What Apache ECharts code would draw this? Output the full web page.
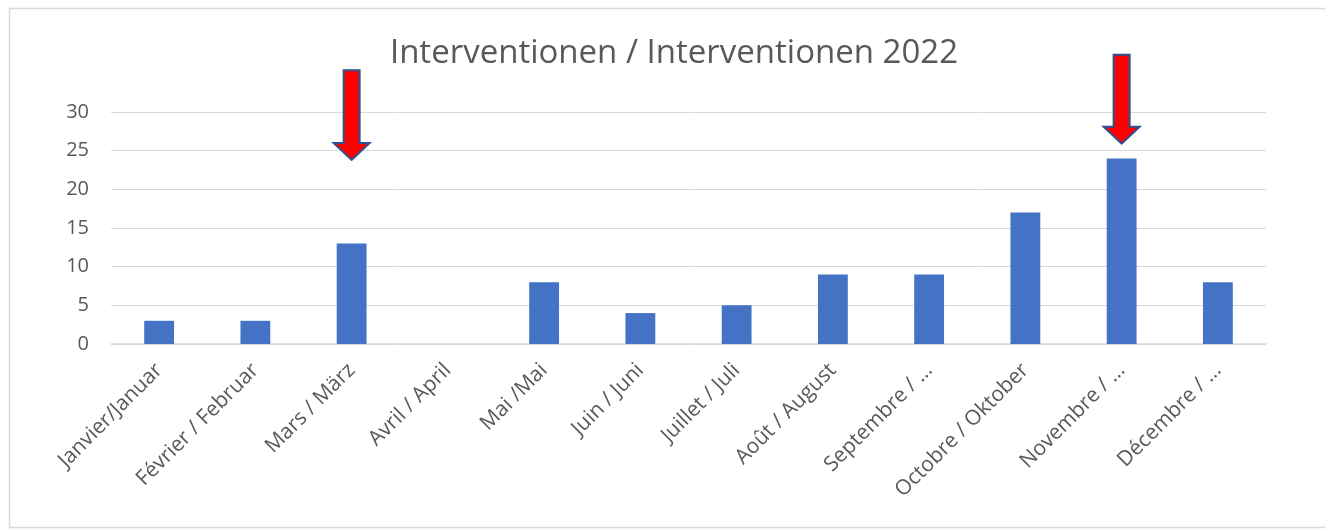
<!DOCTYPE html>
<html><head><meta charset="utf-8">
<script src="https://cdn.jsdelivr.net/npm/echarts@6/dist/echarts.min.js"></script>
<style>html,body{margin:0;padding:0;background:#fff}#c{width:1325px;height:529px}</style>
</head><body><div id="c"></div>
<script>
const categories = ["Janvier/Januar","Février / Februar","Mars / März","Avril / April","Mai /Mai","Juin / Juni","Juillet / Juli","Août / August","Septembre / …","Octobre / Oktober","Novembre / …","Décembre / …"];
const values = [3,3,13,0,8,4,5,9,9,17,24,8];
const yTicks = [0,5,10,15,20,25,30];
// annotation arrows: category index, top value, tip value
const arrowCat = [2,10];
const arrowTop = [35.4,37.4];
const arrowTip = [23.8,25.9];

const chart = echarts.init(document.getElementById('c'));
const FONT = '"Open Sans", sans-serif';
chart.setOption({
  animation:false,
  title:{text:'Interventionen / Interventionen 2022',left:669,textAlign:'center',top:32,
    textStyle:{fontFamily:FONT,fontSize:33,fontWeight:'normal',color:'#595959'}},
  graphic:[{type:'rect',shape:{x:9.5,y:8.5,width:1330,height:519},
    style:{fill:'none',stroke:'#D9D9D9',lineWidth:1.5},silent:true}],
  grid:{left:111,right:59,top:112,bottom:185},
  xAxis:{type:'category',data:categories,
    axisLine:{lineStyle:{color:'#D9D9D9',width:1.5}},axisTick:{show:false},
    axisLabel:{rotate:45,interval:0,fontFamily:FONT,fontSize:21,color:'#595959',margin:23}},
  yAxis:{type:'value',min:yTicks[0],max:yTicks[yTicks.length-1],interval:5,
    axisLine:{show:false},axisTick:{show:false},
    splitLine:{lineStyle:{color:'#D9D9D9',width:1}},
    axisLabel:{fontFamily:FONT,fontSize:20,color:'#595959',margin:22}},
  series:[
    {type:'bar',data:values,barWidth:'31%',itemStyle:{color:'#4472C4'}},
    {type:'custom',clip:false,z:10,
     data:arrowCat.map((c,i)=>[c,arrowTop[i],arrowTip[i]]),
     renderItem:function(params,api){
       const top=api.coord([api.value(0),api.value(1)]);
       const tip=api.coord([api.value(0),api.value(2)]);
       const cx=tip[0], sw=8, hw=18, hh=17;
       const hy=tip[1]-hh;
       return {type:'polygon',shape:{points:[
         [cx-sw,top[1]],[cx+sw,top[1]],[cx+sw,hy],[cx+hw,hy],[cx,tip[1]],[cx-hw,hy],[cx-sw,hy]]},
         style:{fill:'#FF0000',stroke:'#2F528F',lineWidth:2}};
     }}
  ]
});
</script></body></html>
